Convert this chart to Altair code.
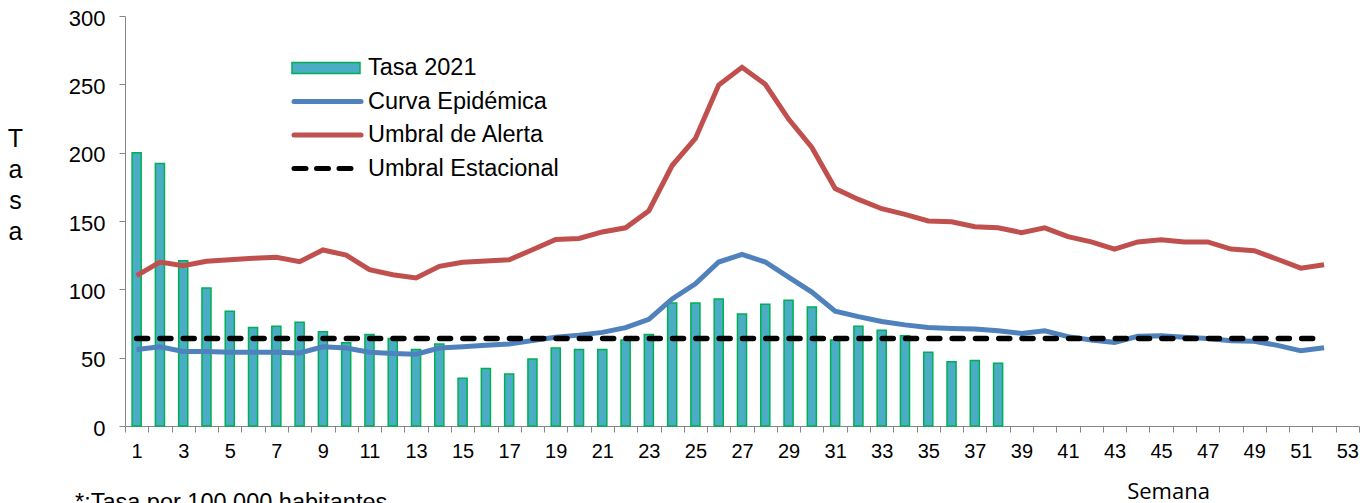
import altair as alt
import pandas as pd

# ---------------- data ----------------
semanas_eje = list(range(1, 54))
semanas = list(range(1, 53))
semanas_tasa = list(range(1, 39))

tasa_2021 = [200, 192, 121, 101, 84, 72, 73, 76, 69, 61, 67, 64, 56, 60, 35, 42, 38, 49, 57, 56,
             56, 63, 67, 90, 90, 93, 82, 89, 92, 87, 63, 73, 70, 66, 54, 47, 48, 46]

curva_epidemica = [56, 58, 54.5, 54.5, 54, 54, 54, 53.5, 58, 57, 54, 53, 52.5, 57, 58, 59, 60, 62.5,
                   65, 66.5, 68.5, 72, 78, 93, 104, 120, 125.5, 120, 109, 98, 84, 80, 76.5, 74, 72,
                   71.4, 71, 69.7, 67.7, 69.7, 65.4, 63, 61.2, 65.6, 66, 65, 64, 62.4, 62, 59, 55, 57.3]

umbral_alerta = [110, 120, 117.3, 120.5, 121.7, 122.7, 123.4, 120.2, 128.8, 125, 114.4, 110.7, 108.3,
                 116.8, 119.8, 120.7, 121.7, 129, 136.5, 137.2, 142, 145, 157.5, 190.6, 210.4, 249.5,
                 262.5, 250, 224.6, 203.8, 173.8, 165.8, 159, 154.8, 150, 149.5, 145.8, 145, 141.5,
                 145, 138.6, 134.7, 129.5, 134.7, 136.2, 134.7, 134.7, 129.5, 128.3, 122, 115.5, 118]

umbral_estacional = [64, 64, 64, 64, 64, 64, 64, 64, 64, 64, 64, 64, 64, 64, 64, 64, 64, 64, 64, 64,
                     64, 64, 64, 64, 64, 64, 64, 64, 64, 64, 64, 64, 64, 64, 64, 64, 64, 64, 64, 64,
                     64, 64, 64, 64, 64, 64, 64, 64, 64, 64, 64, 64]

series = ["Tasa 2021", "Curva Epidémica", "Umbral de Alerta", "Umbral Estacional"]
colores = ["#4BACC6", "#4F81BD", "#C0504D", "#000000"]
y_ticks = [0, 50, 100, 150, 200, 250, 300]
nota = "*:Tasa por 100 000 habitantes"

# ---------------- tables ----------------
df_bar = pd.DataFrame({"semana": semanas_tasa, "valor": tasa_2021, "serie": series[0]})
df_lin = pd.concat([
    pd.DataFrame({"semana": semanas, "valor": curva_epidemica, "serie": series[1]}),
    pd.DataFrame({"semana": semanas, "valor": umbral_alerta, "serie": series[2]}),
])
df_est = pd.DataFrame({"semana": semanas, "valor": umbral_estacional, "serie": series[3]})

FONT = "Liberation Sans"
GRAY = "#868686"
BAR_STROKE = "#00B050"
LW = 5
DASH_MAIN = [11, 12.3]
DASH_LEG = [12, 10.5]

color = alt.Color("serie:N", scale=alt.Scale(domain=series, range=colores), legend=None)

x_enc = alt.X(
    "semana:O",
    scale=alt.Scale(domain=semanas_eje, paddingInner=0, paddingOuter=0),
    axis=alt.Axis(
        title="Semana", titleFont="Open Sans", titleFontSize=22, titleFontWeight="normal",
        titleColor="black", titleX=1043, titleY=65, titleAlign="center", titleBaseline="middle",
        labelExpr="datum.value % 2 == 1 ? datum.label : ''", labelAngle=0, labelOverlap=False,
        labelFont=FONT, labelFontSize=20, labelColor="black", labelPadding=9,
        tickBand="extent", tickSize=6, tickColor=GRAY, domainColor=GRAY, grid=False,
    ),
)
y_enc = alt.Y(
    "valor:Q",
    scale=alt.Scale(domain=[0, 300], nice=False),
    axis=alt.Axis(
        values=y_ticks, title=["T", "a", "s", "a"], titleAngle=0, titleX=-110, titleY=130,
        titleAlign="center", titleBaseline="alphabetic", titleLineHeight=31,
        titleFont=FONT, titleFontSize=25, titleFontWeight="normal", titleColor="black",
        labelFont=FONT, labelFontSize=22, labelColor="black", labelPadding=14, labelOffset=2,
        tickSize=6, tickColor=GRAY, domainColor=GRAY, grid=False,
    ),
)

bars = alt.Chart(df_bar).mark_bar(
    stroke=BAR_STROKE, strokeWidth=1.5, width=alt.RelativeBandSize(0.39)
).encode(x=x_enc, y=y_enc, color=color)

lines = alt.Chart(df_lin).mark_line(strokeWidth=LW).encode(
    x=x_enc, y=y_enc, color=color, detail="serie:N")

est = alt.Chart(df_est).mark_line(strokeWidth=5.5, strokeDash=DASH_MAIN, strokeCap="round").encode(
    x=x_enc, y=y_enc, color=color)

# ---------------- manual legend ----------------
LEG_X0, LEG_X1, LEG_TX = 167, 235, 243
LEG_ROWS = [52, 85.5, 119, 152.5]
LEG_FS = 23.5
leg_layers = []
for i, (s, c) in enumerate(zip(series, colores)):
    d = pd.DataFrame({"serie": [s]})
    yc = LEG_ROWS[i]
    if i == 0:
        sym = alt.Chart(d).mark_rect(fill=c, stroke=BAR_STROKE, strokeWidth=1.5).encode(
            x=alt.value(LEG_X0), x2=alt.value(LEG_X1), y=alt.value(yc - 5.5), y2=alt.value(yc + 5.5))
    else:
        kw = dict(color=c, strokeWidth=LW, strokeCap="round")
        if i == 3:
            kw["strokeDash"] = DASH_LEG
        sym = alt.Chart(d).mark_rule(**kw).encode(
            x=alt.value(LEG_X0 + 2), x2=alt.value(LEG_X1 + 1), y=alt.value(yc))
    txt = alt.Chart(d).mark_text(font=FONT, fontSize=LEG_FS, align="left", baseline="middle",
                                 color="black").encode(
        text="serie:N", x=alt.value(LEG_TX), y=alt.value(yc))
    leg_layers += [sym, txt]

foot = alt.Chart(pd.DataFrame({"t": [nota]})).mark_text(
    font=FONT, fontSize=23.5, align="left", baseline="top", color="black"
).encode(text="t:N", x=alt.value(-50), y=alt.value(475))

chart = alt.layer(bars, lines, est, *leg_layers, foot).properties(
    width=1234, height=410,
    autosize=alt.AutoSizeParams(type="none"),
    padding={"left": 117, "top": 8, "right": 5, "bottom": 92},
).configure_view(stroke=None)

chart.save("out.html", embed_options={"renderer": "svg", "actions": False})
